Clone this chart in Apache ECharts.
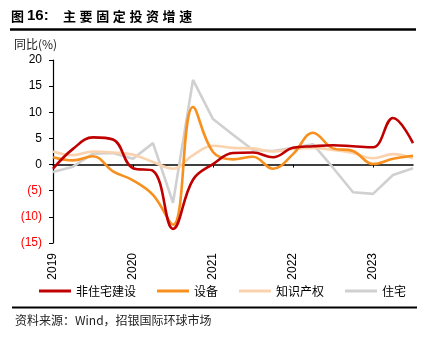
<!DOCTYPE html>
<html><head><meta charset="utf-8">
<script src="https://cdn.jsdelivr.net/npm/echarts@6/dist/echarts.min.js"></script>
<style>html,body{margin:0;padding:0;background:#fff}#c{width:443px;height:343px}</style>
</head><body><div id="c"></div>
<script>
// Quarterly periods (quarter-end points); year ticks fall at the start of each year
const periods = ['2018Q4','2019Q1','2019Q2','2019Q3','2019Q4','2020Q1','2020Q2','2020Q3','2020Q4',
                 '2021Q1','2021Q2','2021Q3','2021Q4','2022Q1','2022Q2','2022Q3','2022Q4','2023Q1','2023Q2'];
const tickLabels = ['2019','2020','2021','2022','2023'];
const nonResidential = [-0.8, 3.0, 5.2, 4.8, -0.7, -1.2, -12.3, -2.9, 0.1, 2.2, 2.3, 1.4, 3.2, 3.5, 3.7, 3.5, 3.3, 8.9, 4.1];
const equipment      = [1.4, 0.8, 1.6, -1.3, -3.0, -5.8, -11.5, 11.0, 2.4, 1.0, 1.5, -0.8, 2.0, 6.1, 3.1, 2.6, 0.1, 1.1, 1.7];
const intellectual   = [2.5, 1.8, 2.5, 2.3, 1.9, 0.5, -0.8, 1.8, 3.6, 3.2, 3.1, 2.5, 3.0, 3.2, 2.8, 2.2, 1.2, 2.0, 1.2];
const residential    = [-1.4, -0.4, 2.1, 2.2, 1.1, 4.1, -7.3, 16.2, 8.7, 5.7, 2.8, 2.6, 3.2, 3.9, -0.6, -5.3, -5.6, -2.0, -0.7];
const seriesNames = ['非住宅建设', '设备', '知识产权', '住宅'];
const titleMain = '主要固定投资增速';
const yUnit = '同比(%)';
const sourceText = '资料来源：Wind，招银国际环球市场';

const CJK = '"Noto Sans CJK SC", "Noto Sans", sans-serif';
const LAT = '"Liberation Sans", Arial, sans-serif';
const colors = ['#C00000', '#F7901E', '#FAD2AE', '#D0D0D0'];

const chart = echarts.init(document.getElementById('c'), null, {renderer: 'canvas'});

function txt(x, y, text, font, fill) {
  return {type: 'text', x: x, y: y, silent: true,
    style: {text: text, font: font, fill: fill || '#000',
      textAlign: 'left', textVerticalAlign: 'middle', align: 'left', verticalAlign: 'middle'}};
}
const graphics = [];
graphics.push(txt(11, 16, '图', 'bold 13px ' + CJK));
graphics.push(txt(27, 16, '16:', 'bold 15px ' + LAT));
titleMain.split('').forEach((ch, k) => graphics.push(txt(63 + k * 16.6, 16, ch, 'bold 13px ' + CJK)));
graphics.push({type: 'line', silent: true, shape: {x1: 10, y1: 29.5, x2: 416, y2: 29.5}, style: {stroke: '#000', lineWidth: 2.5}});
graphics.push(txt(14, 44, yUnit, '12px ' + CJK, '#222'));
graphics.push({type: 'line', silent: true, shape: {x1: 12, y1: 307.5, x2: 417, y2: 307.5}, style: {stroke: '#000', lineWidth: 2}});
graphics.push(txt(15, 320, sourceText, '12px ' + CJK, '#222'));

const data = [nonResidential, equipment, intellectual, residential];
const order = [3, 2, 1, 0]; // draw gray first, red last
const series = order.map(i => ({
  name: seriesNames[i], type: 'line', data: data[i], xAxisIndex: 0, yAxisIndex: 0,
  smooth: i === 3 ? false : 0.4, symbol: 'none',
  lineStyle: {color: colors[i], width: 2.6}, itemStyle: {color: colors[i]}, z: 2 + (3 - i)
}));

chart.setOption({
  animation: false,
  backgroundColor: '#fff',
  grid: {left: 53, right: 30, top: 60, bottom: 100, containLabel: false},
  legend: {
    data: seriesNames, left: 39, top: 285, padding: 0, itemWidth: 32, itemHeight: 3, itemGap: 21, icon: 'rect',
    textStyle: {fontSize: 12, fontFamily: CJK, color: '#000'}
  },
  xAxis: [
    {type: 'category', data: periods, boundaryGap: false,
     axisLine: {onZero: true, lineStyle: {color: '#000', width: 1.5}},
     axisTick: {show: true, interval: 3, length: 3, lineStyle: {color: '#000', width: 1}},
     axisLabel: {show: false}, splitLine: {show: false}},
    {type: 'category', data: periods, boundaryGap: false, position: 'bottom',
     axisLine: {show: false, onZero: false}, axisTick: {show: false},
     axisLabel: {show: true, interval: 3, rotate: 90, margin: 10, fontSize: 12, fontFamily: LAT, color: '#000',
       formatter: (v, i) => (i % 4 === 0 ? tickLabels[i / 4] : '')},
     splitLine: {show: false}}
  ],
  yAxis: {
    type: 'value', min: -15, max: 20, interval: 5,
    axisLine: {show: true, onZero: false, lineStyle: {color: '#000', width: 1.2}},
    axisTick: {show: true, length: 4, lineStyle: {color: '#000'}},
    splitLine: {show: false},
    axisLabel: {margin: 11, fontSize: 12, fontFamily: LAT,
      formatter: v => (v < 0 ? '(' + (-v) + ')' : String(v)),
      color: v => (v < 0 ? '#FF0000' : '#000')}
  },
  series: series,
  graphic: graphics
});
</script></body></html>
